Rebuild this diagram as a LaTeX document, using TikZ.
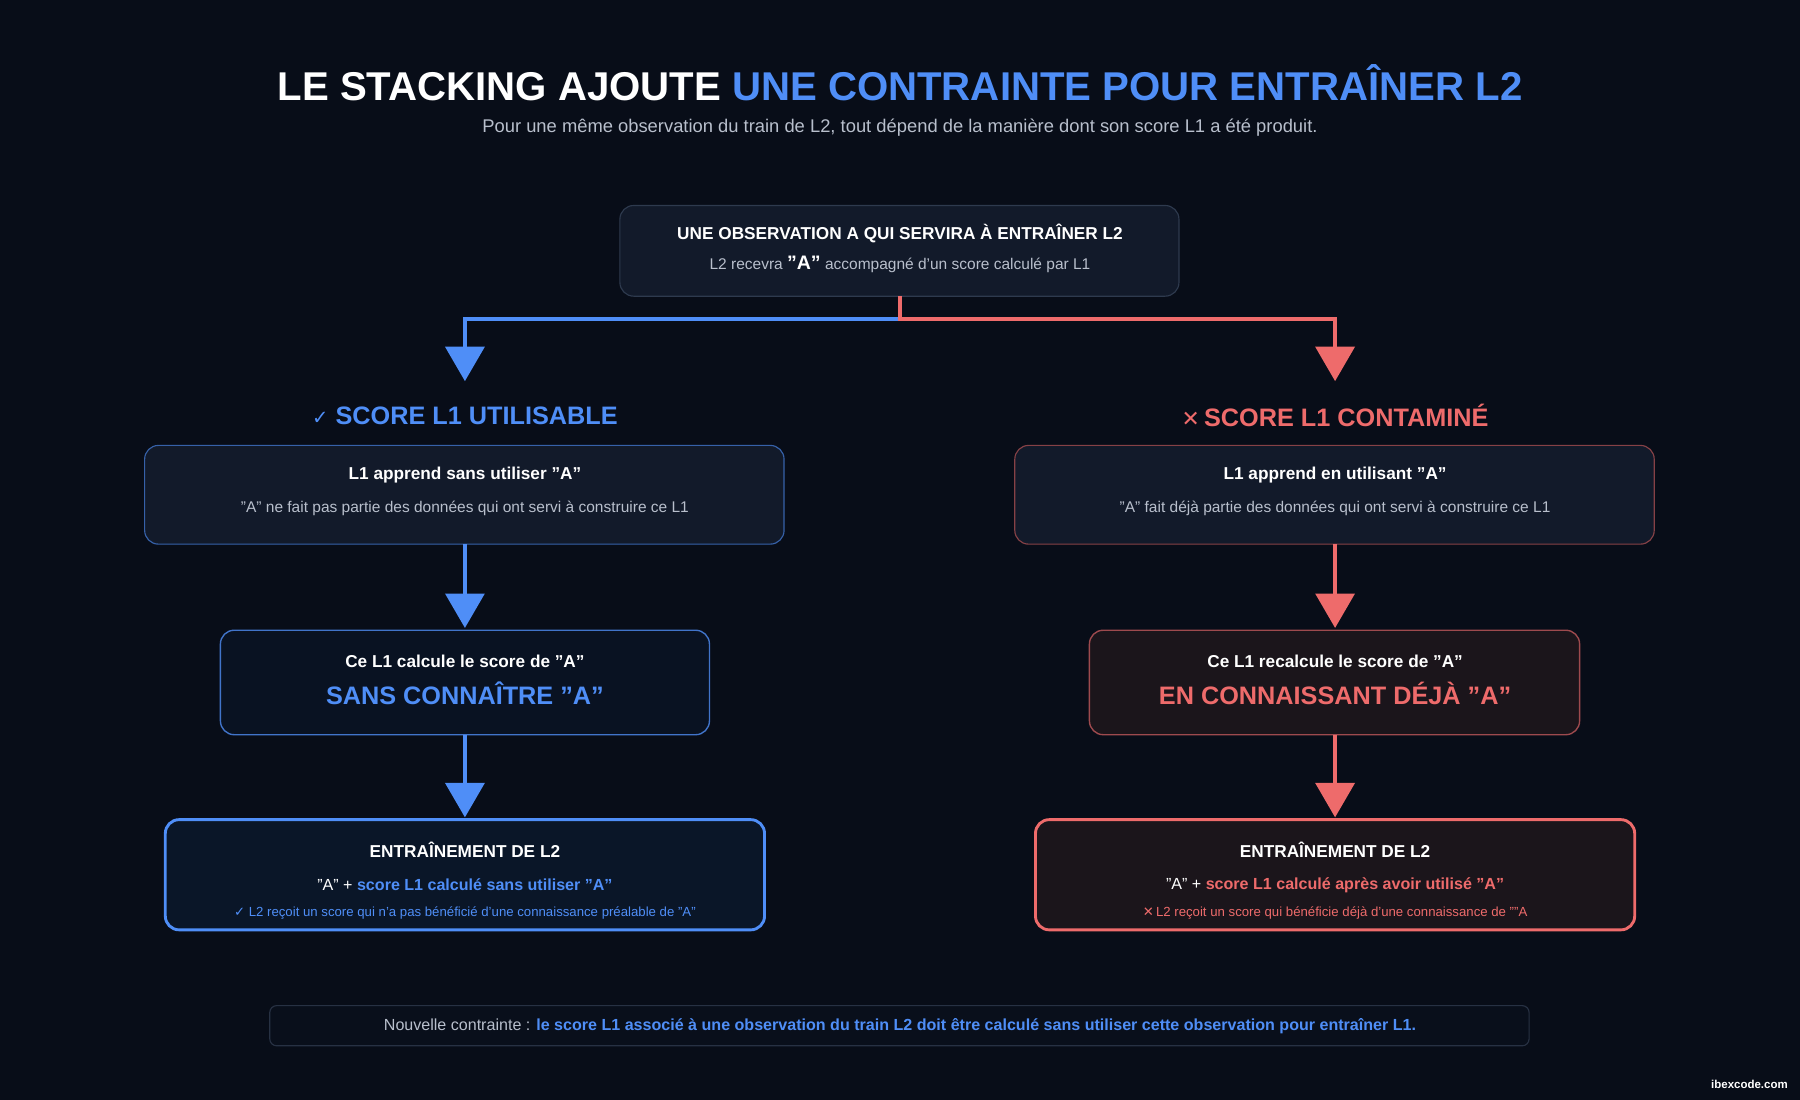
\documentclass[tikz,border=0pt]{standalone}
\usepackage{fontspec}
\setmainfont{Liberation Sans}
\newfontfamily\sym{DejaVu Sans}
\usetikzlibrary{arrows.meta}
\definecolor{bg}{HTML}{080D18}
\definecolor{blu}{HTML}{4F8EF7}
\definecolor{rd}{HTML}{EE6B6B}
\definecolor{boxf}{HTML}{121A2A}
\definecolor{boxb}{HTML}{2E3A4E}
\definecolor{bluf}{HTML}{0A1628}
\definecolor{rdf}{HTML}{1B151B}
\definecolor{gr}{HTML}{B8BFCC}
\newcommand{\fs}[1]{\fontsize{#1}{#1}\selectfont}
\begin{document}
\begin{tikzpicture}[x=1pt,y=-1pt,
  box/.style={draw, rounded corners=12pt, line width=1pt},
  lnb/.style={blu, line width=3pt},
  lnr/.style={rd, line width=3pt},
  ab/.style={lnb, -{Triangle[length=30pt,width=34pt]}},
  ar/.style={lnr, -{Triangle[length=30pt,width=34pt]}},
  txt/.style={text=white, font=\bfseries\fs{15}}]
\fill[bg] (0,0) rectangle (1568,958);
\useasboundingbox (0,0) rectangle (1568,958);
\node[text=white, font=\bfseries\fs{35}] (title) at (784,72) {LE STACKING AJOUTE \textcolor{blu}{UNE CONTRAINTE POUR ENTRAÎNER L2}};
\node[text=gr, font=\fs{16}] (sub) at (784,111) {Pour une même observation du train de L2, tout dépend de la manière dont son score L1 a été produit.};
% top box
\draw[box, boxb, fill=boxf] (540,179) rectangle (1027,258);
\coordinate (top) at (784,258);
\node[txt] (t1) at (784,203) {UNE OBSERVATION A QUI SERVIRA À ENTRAÎNER L2};
\node[text=gr, font=\fs{13.5}] (t2) at (784,230) {L2 recevra \textcolor{white}{\bfseries\fs{17}"A"} accompagné d'un score calculé par L1};
\coordinate (j) at (784,278);
\coordinate (lt) at (405,332);
\coordinate (rt) at (1163,332);
\draw[ab] (top) |- (405,278) -- (lt);
\draw[ar] (top) -- (j) -| (rt);
% headers
\node[text=blu, font=\bfseries\fs{22}] (hl) at (405,362) {{\sym\fs{17}✓} SCORE L1 UTILISABLE};
\node[text=rd, font=\bfseries\fs{22}] (hr) at (1163,362) {{\sym\fs{19}✕}\,SCORE L1 CONTAMINÉ};
% row 1
\draw[box, blu!65!bg, fill=boxf] (126,388) rectangle (683,474);
\draw[box, rd!55!bg, fill=boxf] (884,388) rectangle (1441,474);
\node[txt] (a1) at (405,414) {L1 apprend sans utiliser "A"};
\node[text=gr, font=\fs{13.5}] (a2) at (405,443) {"A" ne fait pas partie des données qui ont servi à construire ce L1};
\node[txt] (b1) at (1163,414) {L1 apprend en utilisant "A"};
\node[text=gr, font=\fs{13.5}] (b2) at (1163,443) {"A" fait déjà partie des données qui ont servi à construire ce L1};
% row 2
\draw[box, blu!80!bg, fill=bluf!60!bg, line width=1.2pt] (192,549) rectangle (618,640);
\draw[box, rd!65!bg, fill=rdf, line width=1.2pt] (949,549) rectangle (1376,640);
\node[txt] (c1) at (405,576) {Ce L1 calcule le score de "A"};
\node[text=blu, font=\bfseries\fs{22}] (c2) at (405,604) {SANS CONNAÎTRE "A"};
\node[txt] (d1) at (1163,576) {Ce L1 recalcule le score de "A"};
\node[text=rd, font=\bfseries\fs{22}] (d2) at (1163,604) {EN CONNAISSANT DÉJÀ "A"};
% row 3
\draw[box, blu, fill=bluf, line width=2.5pt] (144,714) rectangle (666,810);
\draw[box, rd, fill=rdf, line width=2.5pt] (902,714) rectangle (1424,810);
\node[txt] (e1) at (405,740) {ENTRAÎNEMENT DE L2};
\node[text=white, font=\fs{14}] (e2) at (405,771) {"A" + \textcolor{blu}{\bfseries score L1 calculé sans utiliser "A"}};
\node[text=blu, font=\fs{11.5}] (e3) at (405,795) {{\sym ✓} L2 reçoit un score qui n'a pas bénéficié d'une connaissance préalable de "A"};
\node[txt] (f1) at (1163,740) {ENTRAÎNEMENT DE L2};
\node[text=white, font=\fs{14}] (f2) at (1163,771) {"A" + \textcolor{rd}{\bfseries score L1 calculé après avoir utilisé "A"}};
\node[text=rd, font=\fs{11.5}] (f3) at (1163,795) {{\sym ✕}\,L2 reçoit un score qui bénéficie déjà d'une connaissance de ""A};
% vertical arrows
\coordinate (l1b) at (405,474); \coordinate (l2t) at (405,547);
\coordinate (l2b) at (405,640); \coordinate (l3t) at (405,712);
\coordinate (r1b) at (1163,474); \coordinate (r2t) at (1163,547);
\coordinate (r2b) at (1163,640); \coordinate (r3t) at (1163,712);
\draw[ab] (l1b) -- (l2t);
\draw[ab] (l2b) -- (l3t);
\draw[ar] (r1b) -- (r2t);
\draw[ar] (r2b) -- (r3t);
% footer
\draw[rounded corners=6pt, boxb!80!bg, fill=bg!85!boxf, line width=1pt] (235,876) rectangle (1332,911);
\node[text=gr, font=\fs{14}] (ft) at (784,894) {Nouvelle contrainte : \textcolor{blu}{\bfseries le score L1 associé à une observation du train L2 doit être calculé sans utiliser cette observation pour entraîner L1.}};
\node[text=white, font=\bfseries\fs{10}] (ib) at (1524,945) {ibexcode.com};
\end{tikzpicture}
\end{document}
